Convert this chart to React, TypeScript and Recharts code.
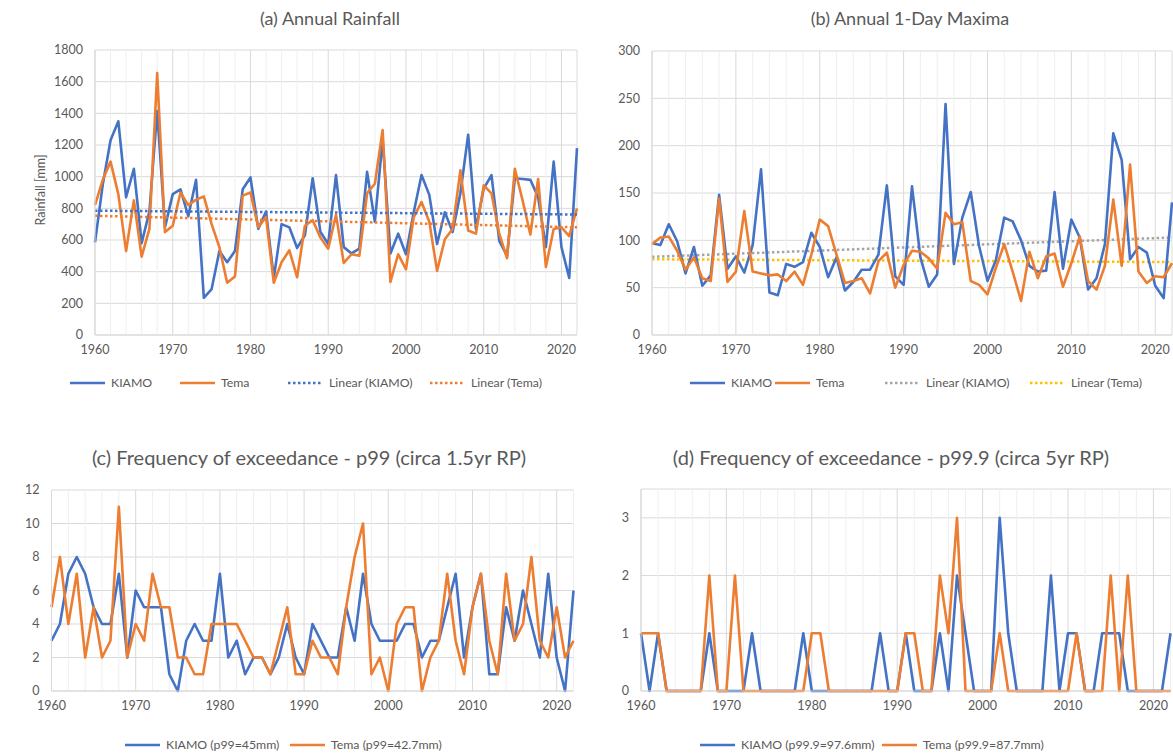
import { LineChart, Line, XAxis, YAxis, CartesianGrid, ReferenceLine } from "recharts";

const years = Array.from({ length: 63 }, (_, i) => 1960 + i);
const decadeTicks = [1960, 1970, 1980, 1990, 2000, 2010, 2020];
const minorYears = years.filter((y) => y % 2 === 0 && y % 10 !== 0);

// (a) annual rainfall [mm]
const rainKiamo = [
  585, 950, 1230, 1350, 870, 1050, 580, 780, 1415, 680,
  890, 920, 750, 980, 235, 290, 530, 460, 530, 920,
  995, 670, 780, 360, 700, 680, 550, 630, 990, 650,
  575, 1010, 555, 515, 545, 1030, 715, 1235, 515, 640,
  510, 775, 1010, 885, 575, 775, 650, 895, 1265, 670,
  925, 1010, 595, 500, 990, 985, 980, 870, 555, 1095,
  555, 360, 1180,
];
const rainTema = [
  820, 980, 1095, 890, 530, 850, 495, 670, 1655, 650,
  690, 900, 820, 855, 875, 700, 555, 330, 370, 880,
  900, 680, 745, 330, 460, 535, 365, 690, 725, 615,
  545, 760, 455, 510, 500, 895, 955, 1295, 335, 510,
  415, 745, 840, 715, 405, 605, 670, 1040, 660, 640,
  945, 895, 640, 485, 1050, 850, 635, 985, 430, 670,
  680, 625, 800,
];
// linear trend end points (1960, 2022) as drawn
const rainTrendKiamo = [785, 761];
const rainTrendTema = [753, 680];

// (b) annual 1-day maxima [mm]
const maxKiamo = [
  97, 95, 117, 99, 65, 93, 52, 63, 148, 70,
  83, 66, 95, 175, 45, 42, 75, 72, 77, 108,
  93, 61, 82, 47, 56, 69, 69, 85, 158, 62,
  53, 157, 82, 51, 64, 244, 75, 124, 151, 94,
  57, 79, 124, 120, 100, 73, 67, 68, 151, 70,
  122, 103, 48, 60, 96, 213, 185, 80, 93, 87,
  52, 39, 140,
];
const maxTema = [
  96, 103, 104, 89, 69, 82, 60, 57, 144, 56,
  67, 131, 67, 65, 63, 64, 57, 67, 53, 85,
  122, 115, 85, 55, 57, 60, 44, 78, 87, 50,
  74, 89, 88, 81, 70, 129, 117, 119, 57, 53,
  43, 71, 96, 67, 36, 88, 60, 83, 86, 51,
  76, 104, 57, 48, 73, 143, 73, 180, 67, 55,
  62, 61, 76,
];
const maxTrendKiamo = [82.6, 103];
const maxTrendTema = [80, 77];

// (c) exceedances of p99
const p99Kiamo = [
  3, 4, 7, 8, 7, 5, 4, 4, 7, 2,
  6, 5, 5, 5, 1, 0, 3, 4, 3, 3,
  7, 2, 3, 1, 2, 2, 1, 2, 4, 2,
  1, 4, 3, 2, 2, 5, 3, 7, 4, 3,
  3, 3, 4, 4, 2, 3, 3, 5, 7, 2,
  5, 7, 1, 1, 5, 3, 6, 4, 2, 7,
  2, 0, 6,
];
const p99Tema = [
  5, 8, 4, 7, 2, 5, 2, 3, 11, 2,
  4, 3, 7, 5, 5, 2, 2, 1, 1, 4,
  4, 4, 4, 3, 2, 2, 1, 3, 5, 1,
  1, 3, 2, 2, 1, 5, 8, 10, 1, 2,
  0, 4, 5, 5, 0, 2, 3, 7, 3, 1,
  5, 7, 3, 1, 7, 3, 4, 8, 3, 2,
  5, 2, 3,
];

// (d) exceedances of p99.9
const p999Kiamo = [
  1, 0, 1, 0, 0, 0, 0, 0, 1, 0,
  0, 0, 0, 1, 0, 0, 0, 0, 0, 1,
  0, 0, 0, 0, 0, 0, 0, 0, 1, 0,
  0, 1, 0, 0, 0, 1, 0, 2, 1, 0,
  0, 0, 3, 1, 0, 0, 0, 0, 2, 0,
  1, 1, 0, 0, 1, 1, 1, 0, 0, 0,
  0, 0, 1,
];
const p999Tema = [
  1, 1, 1, 0, 0, 0, 0, 0, 2, 0,
  0, 2, 0, 0, 0, 0, 0, 0, 0, 0,
  1, 1, 0, 0, 0, 0, 0, 0, 0, 0,
  0, 1, 1, 0, 0, 2, 1, 3, 0, 0,
  0, 0, 1, 0, 0, 0, 0, 0, 0, 0,
  0, 1, 0, 0, 0, 2, 0, 2, 0, 0,
  0, 0, 0,
];

const BLUE = "#4472C4";
const ORANGE = "#ED7D31";
const GREY = "#A5A5A5";
const GOLD = "#FFC000";
const TEXT = "#595959";
const FONT = "Lato, 'Open Sans', sans-serif";

type SeriesDef = { key: string; color: string; dotted?: boolean };

function buildRows(a: number[], b: number[], ta?: number[], tb?: number[]) {
  return years.map((year, i) => {
    const last = i === years.length - 1;
    const row: any = { year, a: a[i], b: b[i] };
    if (ta && (i === 0 || last)) row.ta = ta[i === 0 ? 0 : 1];
    if (tb && (i === 0 || last)) row.tb = tb[i === 0 ? 0 : 1];
    return row;
  });
}

interface PanelProps {
  left: number;
  top: number;
  width: number;
  height: number;
  margin: { top: number; right: number; bottom: number; left: number };
  yWidth: number;
  yDomain: [number, number];
  yTicks: number[];
  data: any[];
  series: SeriesDef[];
}

function Panel({ left, top, width, height, margin, yWidth, yDomain, yTicks, data, series }: PanelProps) {
  const tick = { fill: TEXT, fontSize: 12.5, fontFamily: FONT };
  return (
    <div style={{ position: "absolute", left, top }}>
      <LineChart width={width} height={height} data={data} margin={margin}>
        <CartesianGrid stroke="#d9d9d9" />
        {minorYears.map((y) => (
          <ReferenceLine key={y} x={y} stroke="#efefef" />
        ))}
        <XAxis
          dataKey="year"
          type="number"
          domain={[1960, 2022]}
          ticks={decadeTicks}
          interval={0}
          tickLine={false}
          axisLine={{ stroke: "#d9d9d9" }}
          tick={tick}
          height={25}
          tickMargin={4}
        />
        <YAxis
          width={yWidth}
          domain={yDomain}
          ticks={yTicks}
          interval={0}
          tickLine={false}
          axisLine={{ stroke: "#d9d9d9" }}
          tick={tick}
          tickMargin={6}
        />
        {series.map((s) => (
          <Line
            key={s.key}
            dataKey={s.key}
            type="linear"
            stroke={s.color}
            strokeWidth={s.dotted ? 2.5 : 2.6}
            strokeDasharray={s.dotted ? "2.5 2.5" : undefined}
            strokeLinejoin="round"
            dot={false}
            connectNulls
            isAnimationActive={false}
          />
        ))}
      </LineChart>
    </div>
  );
}

type LegendItem = { label: string; color: string; x: number; dotted?: boolean };

function Legend({ top, items }: { top: number; items: LegendItem[] }) {
  return (
    <>
      {items.map((it) => (
        <div
          key={it.label}
          style={{
            position: "absolute",
            left: it.x,
            top,
            display: "flex",
            alignItems: "center",
            gap: 6,
            fontFamily: FONT,
            fontSize: 12.3,
            color: TEXT,
            whiteSpace: "nowrap",
          }}
        >
          <svg width={35} height={8}>
            <line
              x1={0}
              y1={4}
              x2={35}
              y2={4}
              stroke={it.color}
              strokeWidth={2.5}
              strokeDasharray={it.dotted ? "2.5 2.5" : undefined}
            />
          </svg>
          <span>{it.label}</span>
        </div>
      ))}
    </>
  );
}

function Title({ x, y, text, size }: { x: number; y: number; text: string; size: number }) {
  return (
    <div
      style={{
        position: "absolute",
        left: x,
        top: y,
        transform: "translate(-50%, -50%)",
        fontFamily: FONT,
        fontSize: size,
        color: TEXT,
        whiteSpace: "nowrap",
      }}
    >
      {text}
    </div>
  );
}

export default function App() {
  const rainRows = buildRows(rainKiamo, rainTema, rainTrendKiamo, rainTrendTema);
  const maxRows = buildRows(maxKiamo, maxTema, maxTrendKiamo, maxTrendTema);
  const p99Rows = buildRows(p99Kiamo, p99Tema);
  const p999Rows = buildRows(p999Kiamo, p999Tema);

  return (
    <div
      style={{
        position: "absolute",
        left: 0,
        top: 0,
        width: 1173,
        height: 756,
        overflow: "hidden",
        background: "#fff",
      }}
    >
      <Title x={330} y={18} size={18} text="(a) Annual Rainfall" />
      <Title x={910} y={18} size={18} text="(b) Annual 1-Day Maxima" />
      <Title x={309} y={457} size={20} text="(c) Frequency of exceedance - p99 (circa 1.5yr RP)" />
      <Title x={891} y={457} size={20} text="(d) Frequency of exceedance - p99.9 (circa 5yr RP)" />

      <div
        style={{
          position: "absolute",
          left: 40,
          top: 190,
          transform: "translate(-50%, -50%) rotate(-90deg)",
          fontFamily: FONT,
          fontSize: 12.5,
          color: TEXT,
          whiteSpace: "nowrap",
        }}
      >
        Rainfall [mm]
      </div>

      <Panel
        left={0}
        top={0}
        width={600}
        height={370}
        margin={{ top: 50, right: 23, bottom: 10, left: 50 }}
        yWidth={45}
        yDomain={[0, 1800]}
        yTicks={[0, 200, 400, 600, 800, 1000, 1200, 1400, 1600, 1800]}
        data={rainRows}
        series={[
          { key: "a", color: BLUE },
          { key: "b", color: ORANGE },
          { key: "ta", color: BLUE, dotted: true },
          { key: "tb", color: ORANGE, dotted: true },
        ]}
      />
      <Panel
        left={590}
        top={0}
        width={583}
        height={370}
        margin={{ top: 51, right: 1, bottom: 10, left: 20 }}
        yWidth={42}
        yDomain={[0, 300]}
        yTicks={[0, 50, 100, 150, 200, 250, 300]}
        data={maxRows}
        series={[
          { key: "ta", color: GREY, dotted: true },
          { key: "tb", color: GOLD, dotted: true },
          { key: "a", color: BLUE },
          { key: "b", color: ORANGE },
        ]}
      />
      <Panel
        left={0}
        top={440}
        width={600}
        height={280}
        margin={{ top: 50, right: 26.5, bottom: 4, left: 10 }}
        yWidth={41.5}
        yDomain={[0, 12]}
        yTicks={[0, 2, 4, 6, 8, 10, 12]}
        data={p99Rows}
        series={[
          { key: "a", color: BLUE },
          { key: "b", color: ORANGE },
        ]}
      />
      <Panel
        left={590}
        top={440}
        width={583}
        height={280}
        margin={{ top: 49, right: 2.5, bottom: 4, left: 10 }}
        yWidth={41}
        yDomain={[0, 3.5]}
        yTicks={[0, 1, 2, 3]}
        data={p999Rows}
        series={[
          { key: "a", color: BLUE },
          { key: "b", color: ORANGE },
        ]}
      />

      <Legend
        top={375}
        items={[
          { label: "KIAMO", color: BLUE, x: 70 },
          { label: "Tema", color: ORANGE, x: 180 },
          { label: "Linear (KIAMO)", color: BLUE, dotted: true, x: 288 },
          { label: "Linear (Tema)", color: ORANGE, dotted: true, x: 430 },
        ]}
      />
      <Legend
        top={375}
        items={[
          { label: "KIAMO", color: BLUE, x: 690 },
          { label: "Tema", color: ORANGE, x: 775 },
          { label: "Linear (KIAMO)", color: GREY, dotted: true, x: 885 },
          { label: "Linear (Tema)", color: GOLD, dotted: true, x: 1030 },
        ]}
      />
      <Legend
        top={737}
        items={[
          { label: "KIAMO (p99=45mm)", color: BLUE, x: 125 },
          { label: "Tema (p99=42.7mm)", color: ORANGE, x: 290 },
        ]}
      />
      <Legend
        top={737}
        items={[
          { label: "KIAMO (p99.9=97.6mm)", color: BLUE, x: 700 },
          { label: "Tema (p99.9=87.7mm)", color: ORANGE, x: 882 },
        ]}
      />
    </div>
  );
}
